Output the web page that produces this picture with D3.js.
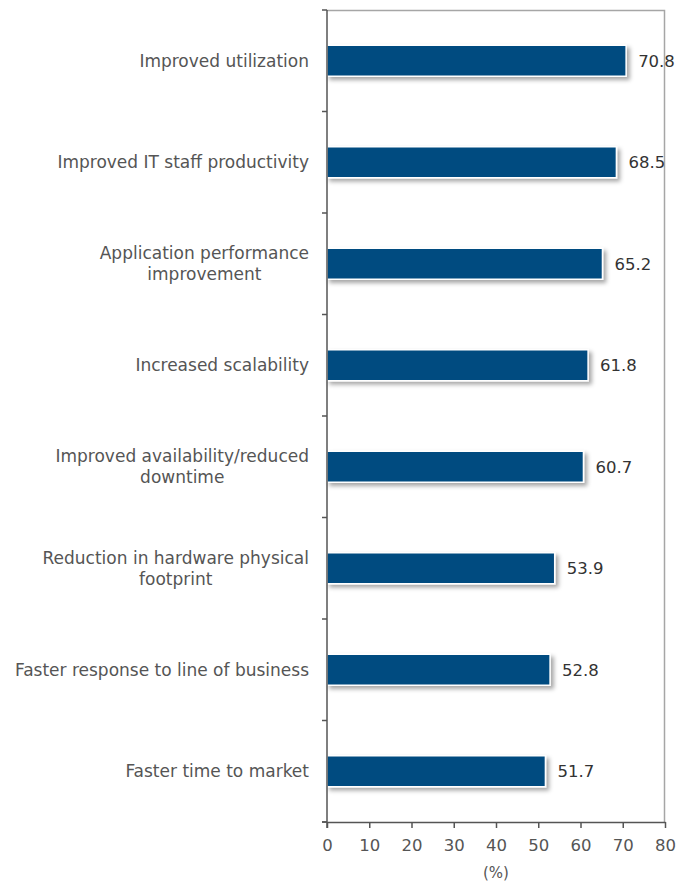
<!DOCTYPE html>
<html>
<head>
<meta charset="utf-8">
<script src="https://cdn.jsdelivr.net/npm/d3@7"></script>
<style>
  body { margin: 0; background: #fff; }
  text { font-family: "DejaVu Sans", Verdana, sans-serif; }
</style>
</head>
<body>
<svg></svg>
<script>
// chart data
var categories = [
    ["Improved utilization"],
    ["Improved IT staff productivity"],
    ["Application performance", "improvement"],
    ["Increased scalability"],
    ["Improved availability/reduced", "downtime"],
    ["Reduction in hardware physical", "footprint"],
    ["Faster response to line of business"],
    ["Faster time to market"]
];
var values = [70.8, 68.5, 65.2, 61.8, 60.7, 53.9, 52.8, 51.7];
var xTicks = [0, 10, 20, 30, 40, 50, 60, 70, 80];
var axisTitle = "(%)";

var width = 676;
var height = 883;
var margin = { top: 10, right: 11, bottom: 61, left: 327 };
var barColor = "#034c80";

var svg = d3.select('svg')
    .attr('width', width)
    .attr('height', height);

var defs = svg.append('defs');
defs.append('filter')
    .attr('id', 'shadow')
    .attr('x', '-10%').attr('y', '-30%')
    .attr('width', '130%').attr('height', '180%')
    .append('feDropShadow')
    .attr('dx', 3).attr('dy', 3)
    .attr('stdDeviation', 2)
    .attr('flood-color', '#000')
    .attr('flood-opacity', 0.35);

var g = svg.append('g')
    .attr('transform', 'translate(' + margin.left + ',' + margin.top + ')');

var w = width - margin.left - margin.right;
var h = height - margin.top - margin.bottom;

var x = d3.scaleLinear().domain([0, 80]).range([0, w]);
var y = d3.scaleBand().domain(d3.range(values.length)).range([0, h]);

// frame top / right
g.append('path')
    .attr('d', 'M0,0.5H' + (w - 0.5) + 'V' + h)
    .attr('fill', 'none')
    .attr('stroke', '#a6a6a6')
    .attr('stroke-width', 1.5);

// bars
g.selectAll('rect.bar')
    .data(values)
    .enter().append('rect')
    .attr('class', 'bar')
    .attr('x', 0)
    .attr('y', function (d, i) { return y(i) + y.bandwidth() / 2 - 15.5; })
    .attr('width', function (d) { return x(d); })
    .attr('height', 31)
    .attr('fill', barColor)
    .attr('stroke', '#fff')
    .attr('stroke-width', 1.5)
    .attr('filter', 'url(#shadow)');

// value labels
g.selectAll('text.val')
    .data(values)
    .enter().append('text')
    .attr('class', 'val')
    .attr('x', function (d) { return x(d) + 12; })
    .attr('y', function (d, i) { return y(i) + y.bandwidth() / 2; })
    .attr('dy', '0.35em')
    .attr('font-size', 16.5)
    .attr('fill', '#333')
    .text(function (d) { return d.toFixed(1); });

// y axis
var yAxis = g.append('g')
    .attr('class', 'yaxis');
yAxis.append('line')
    .attr('x1', 0).attr('x2', 0)
    .attr('y1', 0).attr('y2', h + 6)
    .attr('stroke', '#555').attr('stroke-width', 1.5);
yAxis.selectAll('line.tick')
    .data(d3.range(values.length + 1))
    .enter().append('line')
    .attr('class', 'tick')
    .attr('x1', -5).attr('x2', 0)
    .attr('y1', function (i) { return i * y.step(); })
    .attr('y2', function (i) { return i * y.step(); })
    .attr('stroke', '#555').attr('stroke-width', 1.5);

// category labels
var labels = g.selectAll('text.cat')
    .data(categories)
    .enter().append('text')
    .attr('class', 'cat')
    .attr('text-anchor', 'middle')
    .attr('font-size', 17)
    .attr('fill', '#555');

labels.each(function (lines, i) {
    var t = d3.select(this);
    var cy = y(i) + y.bandwidth() / 2;
    var start = cy - (lines.length - 1) * 21 / 2;
    lines.forEach(function (s, k) {
        t.append('tspan')
            .attr('y', start + k * 21)
            .attr('dy', '0.35em')
            .text(s);
    });
    // right align the block, centre lines in it
    var widest = 0;
    t.selectAll('tspan').each(function () {
        widest = Math.max(widest, this.getComputedTextLength());
    });
    t.selectAll('tspan').attr('x', -18 - widest / 2);
});

// x axis
var xAxis = g.append('g')
    .attr('transform', 'translate(0,' + h + ')')
    .call(d3.axisBottom(x).tickValues(xTicks).tickSize(6).tickSizeOuter(0).tickPadding(11));
xAxis.select('.domain').attr('stroke', '#555').attr('stroke-width', 1.5);
xAxis.selectAll('.tick line').attr('stroke', '#555').attr('stroke-width', 1.5);
xAxis.selectAll('.tick text')
    .attr('font-size', 16.5)
    .attr('fill', '#555')
    .style('font-family', '"DejaVu Sans", Verdana, sans-serif');
xAxis.append('line')
    .attr('x1', -5).attr('x2', 0)
    .attr('stroke', '#555').attr('stroke-width', 1.5);

g.append('text')
    .attr('x', w / 2)
    .attr('y', h + 56)
    .attr('text-anchor', 'middle')
    .attr('font-size', 15)
    .attr('fill', '#555')
    .text(axisTitle);
</script>
</body>
</html>
